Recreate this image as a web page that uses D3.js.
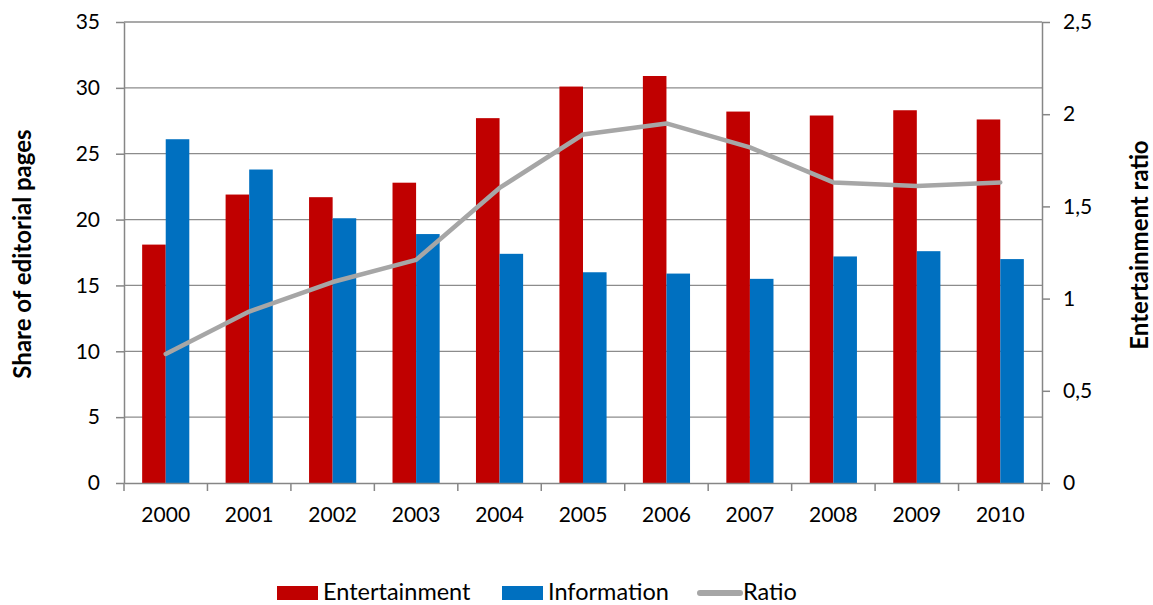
<!DOCTYPE html>
<html>
<head>
<meta charset="utf-8">
<script src="https://cdn.jsdelivr.net/npm/d3@7"></script>
<style>
  html, body { margin: 0; padding: 0; background: #fff; }
  svg text { font-family: Lato, "Open Sans", sans-serif; fill: #000; }
</style>
</head>
<body>
<svg id="chart" width="1153" height="605"></svg>
<script>
// Yearly share of editorial pages by content type, and their ratio
const years = ["2000","2001","2002","2003","2004","2005","2006","2007","2008","2009","2010"];
const entertainment = [18.1, 21.9, 21.7, 22.8, 27.7, 30.1, 30.9, 28.2, 27.9, 28.3, 27.6];
const information   = [26.1, 23.8, 20.1, 18.9, 17.4, 16.0, 15.9, 15.5, 17.2, 17.6, 17.0];
const ratio         = [0.70, 0.93, 1.09, 1.21, 1.60, 1.89, 1.95, 1.82, 1.63, 1.61, 1.63];
const leftTicks  = [0, 5, 10, 15, 20, 25, 30, 35];
const rightTicks = [0, 0.5, 1, 1.5, 2, 2.5];
const seriesNames = ["Entertainment", "Information", "Ratio"];

const colors = { ent: "#c00000", info: "#0070c0", ratio: "#a6a6a6", axis: "#868686", grid: "#8c8c8c" };

const svg = d3.select("#chart");
const m = { left: 124, right: 1042, top: 22, bottom: 483 };

const x = d3.scaleBand().domain(years).range([m.left, m.right]).paddingInner(0).paddingOuter(0);
const yL = d3.scaleLinear().domain([0, 35]).range([m.bottom, m.top]);
const yR = d3.scaleLinear().domain([0, 2.5]).range([m.bottom, m.top]);

const groupW = x.bandwidth() * 0.565;
const barW = groupW / 2;

// gridlines
svg.append("g")
  .selectAll("line")
  .data(leftTicks.filter(d => d > 0))
  .join("line")
  .attr("x1", m.left).attr("x2", m.right)
  .attr("y1", d => yL(d)).attr("y2", d => yL(d))
  .attr("stroke", colors.grid).attr("stroke-width", 1.3);

// bars
const groups = svg.append("g").selectAll("g")
  .data(years)
  .join("g")
  .attr("transform", d => `translate(${x(d) + x.bandwidth() / 2},0)`);

groups.append("rect")
  .attr("x", -groupW / 2)
  .attr("width", barW)
  .attr("y", (d, i) => yL(entertainment[i]))
  .attr("height", (d, i) => yL(0) - yL(entertainment[i]))
  .attr("fill", colors.ent);

groups.append("rect")
  .attr("x", -groupW / 2 + barW)
  .attr("width", barW)
  .attr("y", (d, i) => yL(information[i]))
  .attr("height", (d, i) => yL(0) - yL(information[i]))
  .attr("fill", colors.info);

// ratio line on secondary axis
const line = d3.line()
  .x((d, i) => x(years[i]) + x.bandwidth() / 2)
  .y(d => yR(d));
svg.append("path")
  .datum(ratio)
  .attr("d", line)
  .attr("fill", "none")
  .attr("stroke", colors.ratio)
  .attr("stroke-width", 4.5)
  .attr("stroke-linejoin", "round")
  .attr("stroke-linecap", "round");

// axes
function styleAxis(g) {
  g.select(".domain").attr("stroke", colors.axis).attr("stroke-width", 1.5);
  g.selectAll(".tick line").attr("stroke", colors.axis).attr("stroke-width", 1.5);
  g.selectAll("text").attr("font-size", 21).attr("fill", "#000");
}

const leftAxis = svg.append("g")
  .attr("transform", `translate(${m.left},0)`)
  .call(d3.axisLeft(yL).tickValues(leftTicks).tickSize(8).tickPadding(16).tickSizeOuter(0));
styleAxis(leftAxis);

const fmtR = d => String(d).replace(".", ",");
const rightAxis = svg.append("g")
  .attr("transform", `translate(${m.right},0)`)
  .call(d3.axisRight(yR).tickValues(rightTicks).tickFormat(fmtR).tickSize(8).tickPadding(13).tickSizeOuter(0));
styleAxis(rightAxis);

const bottomAxis = svg.append("g")
  .attr("transform", `translate(0,${m.bottom})`)
  .call(d3.axisBottom(x).tickSize(0).tickPadding(24).tickSizeOuter(0));
styleAxis(bottomAxis);
// category boundary ticks
bottomAxis.append("g").selectAll("line")
  .data(years.map(d => x(d)).concat([m.right]))
  .join("line")
  .attr("x1", d => d).attr("x2", d => d)
  .attr("y1", 0).attr("y2", 8)
  .attr("stroke", colors.axis).attr("stroke-width", 1.5);

// axis titles
svg.append("text")
  .attr("transform", "translate(31,254) rotate(-90)")
  .attr("text-anchor", "middle")
  .attr("font-size", 24).attr("font-weight", "bold")
  .text("Share of editorial pages");

svg.append("text")
  .attr("transform", "translate(1148,245) rotate(-90)")
  .attr("text-anchor", "middle")
  .attr("font-size", 24).attr("font-weight", "bold")
  .text("Entertainment ratio");

// legend
const legend = svg.append("g").attr("transform", "translate(0,592)");
const legendItems = [
  { name: seriesNames[0], type: "rect", color: colors.ent, x: 277 },
  { name: seriesNames[1], type: "rect", color: colors.info, x: 502 },
  { name: seriesNames[2], type: "line", color: colors.ratio, x: 697 }
];
legendItems.forEach(it => {
  if (it.type === "rect") {
    legend.append("rect").attr("x", it.x).attr("y", -6).attr("width", 41).attr("height", 14).attr("fill", it.color);
  } else {
    legend.append("line").attr("x1", it.x + 3).attr("x2", it.x + 43).attr("y1", 1).attr("y2", 1)
      .attr("stroke", it.color).attr("stroke-width", 6).attr("stroke-linecap", "round");
  }
  legend.append("text").attr("x", it.x + 46).attr("y", 8).attr("font-size", 23.5).text(it.name);
});
</script>
</body>
</html>
